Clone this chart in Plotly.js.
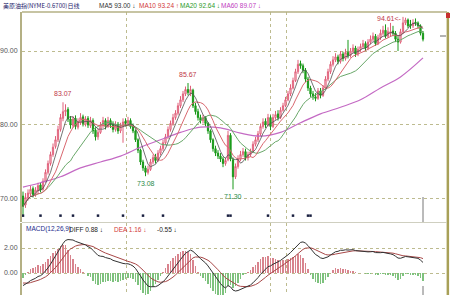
<!DOCTYPE html>
<html><head><meta charset="utf-8">
<script src="https://cdn.plot.ly/plotly-3.0.1.min.js"></script>
<style>html,body{margin:0;padding:0;background:#fff}#chart{width:450px;height:300px}</style>
</head><body><div id="chart"></div>
<script>
// ---- data (daily candles, oldest first) ----
const opens = [70.4,69.2,70.1,70.7,71.4,70.6,71.1,71.9,71.3,72.4,73.6,74.8,76.0,77.1,78.0,79.4,80.9,81.8,82.1,80.8,
79.9,80.9,79.7,80.3,81.1,80.1,80.9,79.9,80.6,79.3,78.4,79.0,79.9,80.6,79.8,80.6,80.1,79.4,80.1,79.2,
79.8,80.5,80.2,80.6,79.9,79.2,78.0,76.6,75.0,74.2,73.6,74.0,75.0,75.7,75.2,76.2,76.8,77.6,78.4,79.4,
80.2,81.0,81.6,82.6,83.4,84.2,84.8,84.3,84.7,82.6,81.8,81.0,80.6,81.0,80.2,79.2,78.0,76.8,76.2,75.8,
75.4,74.8,75.3,78.6,75.3,73.0,74.4,75.4,76.0,76.4,75.6,76.0,76.4,77.4,78.0,78.8,79.8,80.5,80.0,81.0,
79.8,81.0,81.5,81.0,82.0,82.6,83.4,84.2,85.0,86.0,87.2,88.3,88.0,87.4,86.2,85.0,84.2,83.8,83.6,84.6,
84.0,85.0,86.2,87.2,88.2,88.8,89.2,88.6,89.6,89.0,89.8,89.4,90.0,90.4,89.6,90.2,90.6,91.0,90.4,91.2,
91.6,92.0,91.0,91.8,92.4,92.8,92.0,92.4,92.7,92.4,91.6,91.2,92.6,93.8,94.2,93.6,93.4,93.9,93.8,93.4,
92.4];
const highs = [71.0,70.8,71.3,71.8,71.7,71.6,72.2,72.2,72.8,74.0,75.2,76.4,77.5,78.5,79.9,81.5,83.07,82.8,82.4,81.2,
81.2,81.3,80.9,81.6,81.4,81.2,81.2,81.1,80.9,79.7,79.5,80.4,81.1,80.9,81.1,80.9,80.5,80.5,80.4,80.3,
80.9,80.9,81.1,80.9,80.2,79.4,78.2,76.8,75.3,74.5,74.5,75.4,76.0,76.1,76.6,77.2,78.0,78.8,79.8,80.6,
81.5,82.0,83.0,83.9,84.6,85.2,85.67,85.3,84.9,83.0,82.2,81.4,81.4,81.2,80.4,79.4,78.2,77.2,76.6,76.2,
75.7,75.6,79.2,78.9,75.6,74.8,75.9,76.5,76.9,76.8,76.4,76.8,77.8,78.4,79.2,80.2,80.9,80.9,81.5,81.3,
81.5,81.9,82.0,82.4,83.0,83.8,84.6,85.5,86.4,87.6,88.8,88.7,88.3,87.7,86.5,85.3,84.6,84.3,85.0,85.0,
85.4,86.6,87.6,88.6,89.3,89.7,89.5,90.0,89.9,90.3,91.5,90.4,90.9,90.7,90.6,91.0,91.5,91.3,91.6,92.1,
92.5,92.3,92.2,92.9,93.4,93.6,93.2,93.8,93.4,92.7,92.0,93.0,94.61,94.5,94.4,94.2,94.3,94.4,94.0,93.6,
92.7];
const lows = [67.6,68.8,69.8,70.4,70.2,70.3,70.8,70.9,71.1,72.2,73.3,74.5,75.7,76.8,77.7,79.1,80.5,81.2,80.4,79.5,
79.6,79.4,79.4,80.0,79.8,79.8,79.6,79.6,78.8,77.9,78.0,78.8,79.6,79.4,79.6,79.6,79.0,79.1,78.8,78.9,
77.6,79.8,79.9,79.5,78.9,77.7,76.2,74.6,73.8,73.08,73.3,73.8,74.7,74.8,75.0,75.9,76.5,77.3,78.1,79.1,
79.9,80.7,81.3,82.3,83.1,83.9,84.0,83.9,82.3,81.4,80.6,80.2,80.2,79.8,78.8,77.6,76.4,75.8,75.4,75.0,
74.3,74.5,75.1,75.1,71.30,72.7,74.1,75.1,75.7,75.2,75.2,75.7,76.2,77.1,77.7,78.5,79.5,79.6,79.8,79.3,
79.6,80.7,80.6,80.8,81.8,82.4,83.2,83.9,84.8,85.8,86.9,87.6,87.0,85.8,84.6,83.8,83.4,83.2,83.4,83.6,
83.8,84.8,85.9,86.9,87.9,88.5,88.2,88.3,88.6,88.7,89.0,89.1,89.7,89.2,89.3,89.9,90.3,90.0,90.1,90.9,
91.3,90.7,90.8,91.5,92.1,91.7,91.8,92.0,92.0,91.2,90.0,91.0,92.4,93.5,93.1,93.0,93.1,93.4,93.0,92.1,
91.3];
const closes = [69.0,70.2,70.8,71.3,70.6,71.2,71.8,71.2,72.4,73.6,74.8,76.0,77.0,78.0,79.4,81.0,81.8,82.0,80.8,80.0,
80.8,79.8,80.4,81.0,80.2,80.8,80.0,80.6,79.2,78.4,79.0,80.0,80.6,79.8,80.6,80.0,79.4,80.0,79.2,79.8,
80.4,80.2,80.6,79.8,79.2,78.0,76.6,75.0,74.2,73.6,74.0,75.0,75.6,75.2,76.2,76.8,77.6,78.4,79.4,80.2,
81.0,81.6,82.6,83.4,84.2,84.8,84.4,84.8,82.6,81.8,81.0,80.6,81.0,80.2,79.2,78.0,76.8,76.2,75.8,75.4,
74.8,75.2,78.6,75.4,73.0,74.4,75.4,76.0,76.4,75.6,76.0,76.4,77.4,78.0,78.8,79.8,80.4,80.0,81.0,79.8,
81.0,81.4,81.0,82.0,82.6,83.4,84.2,85.0,86.0,87.2,88.2,88.0,87.4,86.2,85.0,84.2,83.8,83.6,84.6,84.0,
85.0,86.2,87.2,88.2,88.8,89.2,88.6,89.6,89.0,89.8,89.4,90.0,90.4,89.6,90.2,90.6,91.0,90.4,91.2,91.6,
92.0,91.0,91.8,92.4,92.8,92.0,92.6,92.6,92.4,91.6,91.2,92.6,93.8,94.2,93.4,93.4,93.8,93.8,93.4,92.4,
91.6];
// MA60 (needs history before the first visible candle)
const ma60Idx = [0,7,15,23,31,39,47,55,63,71,79,87,95,103,111,119,127,135,143,151,160];
const ma60Val = [71.6,72.2,73.0,74.2,75.0,75.8,77.0,78.0,79.0,79.7,79.6,78.9,78.5,79.0,80.3,81.5,82.4,83.4,85.0,86.5,89.07];
const monthBreaks = [41.2, 98.8, 105.2];
const eventIdx = [0,7,15,20,30,40,48,56,82,83,98,108,114,115];
const priceTicks = [70, 80, 90];
const macdTicks = [0, 2];
const titleText = '美原油指(NYME-0.6700)日线';
const macdHeader = ['MACD(12,26,9)', 'DIFF 0.88 ↓', 'DEA 1.16 ↓', '-0.55 ↓'];
const maArrows = ['↓', '↑', '↓', '↓'];
const highMarks = [16, 66, 152];
const lowMarks = [49, 84];
// MACD state carried in from before the first visible candle
const macdSeed = {ema12: 70.0, ema26: 71.0, dea: -0.75};

// ---- derived series ----
const idx = closes.map((_, i) => i);
function sma(n) {
  return closes.map((_, i) => {
    const w = closes.slice(Math.max(0, i - n + 1), i + 1);
    return w.reduce((a, b) => a + b, 0) / w.length;
  });
}
const ma5 = sma(5), ma10 = sma(10), ma20 = sma(20);
let e12 = macdSeed.ema12, e26 = macdSeed.ema26, dea = macdSeed.dea;
const diffArr = [], deaArr = [], histArr = [];
closes.forEach(c => {
  e12 = e12 * 11 / 13 + c * 2 / 13;
  e26 = e26 * 25 / 27 + c * 2 / 27;
  const d = e12 - e26;
  dea = dea * 0.8 + d * 0.2;
  diffArr.push(d); deaArr.push(dea); histArr.push(2 * (d - dea));
});

// ---- layout geometry ----
const W = 450, H = 300, ML = 22, MR = 3, MT = 12, MB = 5;
const PW = W - ML - MR, PH = H - MT - MB;
const px2x = x => (x - ML) / PW;
const py2y = y => (H - MB - y) / PH;
const xRange = [-0.4, 169.6];
const mainDom = [py2y(222), 1];
const macdDom = [0, py2y(223)];
const olive = '#b4b084';
const gridC = '#bdbb8f';
const FONT = 'Liberation Sans, Arial, sans-serif';
const NARROW = 'Liberation Sans Narrow, Noto Sans CJK SC, sans-serif';

const C_MA5 = '#505050', C_MA10 = '#d9676f', C_MA20 = '#6aa86a', C_MA60 = '#c46ac4';

const traces = [
  {type: 'candlestick', x: idx, open: opens, high: highs, low: lows, close: closes,
   xaxis: 'x', yaxis: 'y', whiskerwidth: 0, hoverinfo: 'skip',
   increasing: {line: {color: '#e0607a', width: 1}, fillcolor: '#fbe3e6'},
   decreasing: {line: {color: '#189818', width: 1}, fillcolor: '#22a522'}},
  {type: 'scatter', mode: 'lines', x: ma60Idx, y: ma60Val, line: {color: C_MA60, width: 1.2, shape: 'spline'}, xaxis: 'x', yaxis: 'y'},
  {type: 'scatter', mode: 'lines', x: idx, y: ma20, line: {color: C_MA20, width: 1}, xaxis: 'x', yaxis: 'y'},
  {type: 'scatter', mode: 'lines', x: idx, y: ma10, line: {color: C_MA10, width: 1}, xaxis: 'x', yaxis: 'y'},
  {type: 'scatter', mode: 'lines', x: idx, y: ma5, line: {color: C_MA5, width: 0.8}, xaxis: 'x', yaxis: 'y'},
  {type: 'scatter', mode: 'markers', x: eventIdx, y: eventIdx.map(() => 67.75),
   marker: {symbol: 'square', size: 2.5, color: '#1a2040'}, xaxis: 'x', yaxis: 'y'},
  {type: 'bar', x: idx, y: histArr, width: 0.5,
   marker: {color: histArr.map(v => v >= 0 ? '#d8848e' : '#7ec27e'), line: {width: 0}},
   xaxis: 'x2', yaxis: 'y2'},
  {type: 'scatter', mode: 'lines', x: idx, y: deaArr, line: {color: '#a84848', width: 1}, xaxis: 'x2', yaxis: 'y2'},
  {type: 'scatter', mode: 'lines', x: idx, y: diffArr, line: {color: '#333333', width: 1}, xaxis: 'x2', yaxis: 'y2'}
];

const ann = [];
function txt(x, y, text, color, size, fam) {
  ann.push({xref: 'paper', yref: 'paper', x: px2x(x), y: py2y(y), text: text, showarrow: false,
    xanchor: 'left', yanchor: 'middle', font: {family: fam || FONT, size: size || 7, color: color}});
}
txt(1, 5, titleText, '#1c1c6c', 6, NARROW);
const maLast = [ma5, ma10, ma20].map(a => a[a.length - 1]).concat([ma60Val[ma60Val.length - 1]]);
const maNames = ['MA5', 'MA10', 'MA20', 'MA60'];
const maCols = ['#333333', '#d23a3a', '#2a9a2a', '#c040c0'];
const maX = [97, 137, 178, 219];
maNames.forEach((n, k) => txt(maX[k], 5, n + ' ' + maLast[k].toFixed(2) + ' ' + maArrows[k], maCols[k], 6.5));
const mhX = [24, 67, 112, 155];
const mhC = ['#1c2c8c', '#222222', '#d23a3a', '#222222'];
macdHeader.forEach((t, k) => txt(mhX[k], 229, t, mhC[k], 6.5));

highMarks.forEach((i, k) => {
  const last = k === highMarks.length - 1;
  ann.push({xref: 'x', yref: 'y', x: i, y: highs[i], text: highs[i].toFixed(2) + (last ? '<-' : ''),
    showarrow: false, xanchor: last ? 'right' : 'center', yanchor: last ? 'middle' : 'bottom',
    yshift: last ? -2 : 3, xshift: last ? 1 : 0,
    font: {family: FONT, size: 7, color: '#c03848'}});
});
lowMarks.forEach(i => {
  ann.push({xref: 'x', yref: 'y', x: i, y: lows[i], text: lows[i].toFixed(2),
    showarrow: false, xanchor: 'center', yanchor: 'top', yshift: -2,
    font: {family: FONT, size: 7, color: '#2a8a4a'}});
});

const shapes = [
  {type: 'line', xref: 'paper', yref: 'paper', x0: 0, x1: 1, y0: 1, y1: 1, line: {color: olive, width: 1.5}},
  {type: 'line', xref: 'paper', yref: 'paper', x0: 1.002, x1: 1.002, y0: 0, y1: 1, line: {color: '#a8a058', width: 2.5}},
  {type: 'line', xref: 'paper', yref: 'paper', x0: 0, x1: 1, y0: py2y(222.5), y1: py2y(222.5), line: {color: '#cfcfc0', width: 1}},
  {type: 'line', xref: 'paper', yref: 'paper', x0: px2x(423), x1: px2x(423), y0: py2y(197), y1: py2y(222), line: {color: '#777', width: 1}},
  {type: 'line', xref: 'paper', yref: 'paper', x0: px2x(423), x1: px2x(423), y0: py2y(286), y1: py2y(295), line: {color: '#777', width: 1}},
  {type: 'line', xref: 'paper', yref: 'paper', x0: px2x(440), x1: px2x(446), y0: py2y(36), y1: py2y(36), line: {color: '#666', width: 1}},
  {type: 'rect', xref: 'paper', yref: 'paper', x0: px2x(446), x1: px2x(450), y0: py2y(13), y1: py2y(18), line: {width: 0}, fillcolor: '#c83030'}
];

const xCommon = {range: xRange, showgrid: true, gridcolor: gridC, griddash: 'dot', gridwidth: 1,
  tickmode: 'array', tickvals: monthBreaks, showticklabels: false, ticks: '', zeroline: false,
  showline: false, fixedrange: true};
const layout = {
  width: W, height: H, margin: {l: ML, r: MR, t: MT, b: MB},
  paper_bgcolor: '#ffffff', plot_bgcolor: '#ffffff', showlegend: false, bargap: 0,
  font: {family: FONT, size: 7, color: '#444'},
  xaxis: Object.assign({}, xCommon, {anchor: 'y', domain: [0, 1], rangeslider: {visible: false}}),
  xaxis2: Object.assign({}, xCommon, {anchor: 'y2', domain: [0, 1]}),
  yaxis: {domain: mainDom, range: [66.89, 95.27], tickmode: 'array', tickvals: priceTicks, tickformat: '.2f',
    showgrid: true, gridcolor: gridC, griddash: 'dot', zeroline: false, showline: true, linecolor: olive, linewidth: 2,
    ticks: '', ticklabelstandoff: 1, tickfont: {family: FONT, size: 7, color: '#555'}, fixedrange: true},
  yaxis2: {domain: macdDom, range: [-1.76, 4.0], tickmode: 'array', tickvals: macdTicks, tickformat: '.2f',
    showgrid: true, gridcolor: gridC, griddash: 'dot', zeroline: false, showline: true, linecolor: olive, linewidth: 2,
    ticks: '', ticklabelstandoff: 1, tickfont: {family: FONT, size: 7, color: '#555'}, fixedrange: true},
  annotations: ann, shapes: shapes
};
Plotly.newPlot('chart', traces, layout, {staticPlot: true, displayModeBar: false});
</script></body></html>
